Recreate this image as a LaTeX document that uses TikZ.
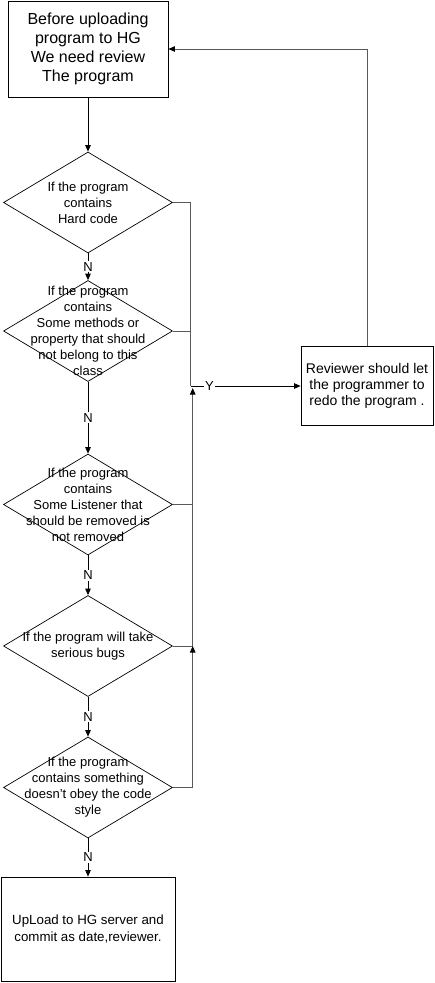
\documentclass[tikz,border=0pt]{standalone}
\usepackage{fontspec}
\setmainfont{Liberation Sans}
\usetikzlibrary{shapes.geometric,arrows.meta,positioning}

\begin{document}
\begin{tikzpicture}[x=1pt, y=-1pt,
    box/.style={draw, line width=0.8pt, align=center, inner sep=0pt},
    decision/.style={draw, diamond, line width=0.7pt, minimum width=169pt, minimum height=101pt, inner sep=0pt},
    dtext/.style={align=center, font=\fontsize{13}{16}\selectfont},
    flow/.style={line width=0.8pt, -{Triangle[length=6.5pt, width=5.5pt, color=black]}},
    side/.style={line width=0.8pt, black!65},
    tag/.style={fill=white, inner sep=1pt, font=\fontsize{13}{15}\selectfont}]

\useasboundingbox (0,0) rectangle (434,983);

% Start box
\node[box, minimum width=160pt, minimum height=96pt, font=\fontsize{16}{19}\selectfont] (start) at (88,49)
    {Before uploading\\program to HG\\We need review\\The program};

% Review questions
\node[decision] (d1) at (88,202.5) {};
\node[dtext] (d1t) at (d1) {If the program\\contains\\Hard code};

\node[decision] (d2) at (88,331) {};
\node[dtext] (d2t) at (d2) {If the program\\contains\\Some methods or\\property that should\\not belong to this\\class};

\node[decision] (d3) at (88,504.5) {};
\node[dtext] (d3t) at (d3) {If the program\\contains\\Some Listener that\\should be removed is\\not removed};

\node[decision] (d4) at (88,646) {};
\node[dtext] (d4t) at (d4) {If the program will take\\serious bugs};

\node[decision] (d5) at (88,787.5) {};
\node[dtext] (d5t) at (d5) {If the program\\contains something\\doesn’t obey the code\\style};

% Redo box
\node[box, minimum width=132pt, minimum height=79pt, font=\fontsize{14}{15.7}\selectfont] (redo) at (367,386)
    {Reviewer should let\\the programmer to\\redo the program .};

% Upload box
\node[box, minimum width=174pt, minimum height=104pt, font=\fontsize{13.3}{16.7}\selectfont] (upload) at (88,929)
    {UpLoad to HG server and\\commit as date,reviewer.};

% Main flow (N answers)
\draw[flow] (start) -- (d1);
\draw[flow] (d1) -- node[tag] {N} (d2);
\draw[flow] (d2) -- node[tag] {N} (d3);
\draw[flow] (d3) -- node[tag] {N} (d4);
\draw[flow] (d4) -- node[tag] {N} (d5);
\draw[flow] (d5) -- node[tag] {N} (upload);

% Y answers
\coordinate (yes) at (190.7,386);
\coordinate (back) at (192.7,388);
\coordinate (bugs) at (192.7,646);

\draw[side] (d1.east) -| (yes);
\draw[side] (d2.east) -- (d2.east -| yes);
\draw[flow] (yes) -- node[tag, pos=0.17] {Y} (redo);
\draw[side] (d3.east) -- (d3.east -| back);
\draw[side, flow] (d4.east) -| (back);
\draw[side, flow] (d5.east) -| (bugs);

% Back to the start
\draw[side, flow] (redo.north) |- (start.east);

\end{tikzpicture}
\end{document}
